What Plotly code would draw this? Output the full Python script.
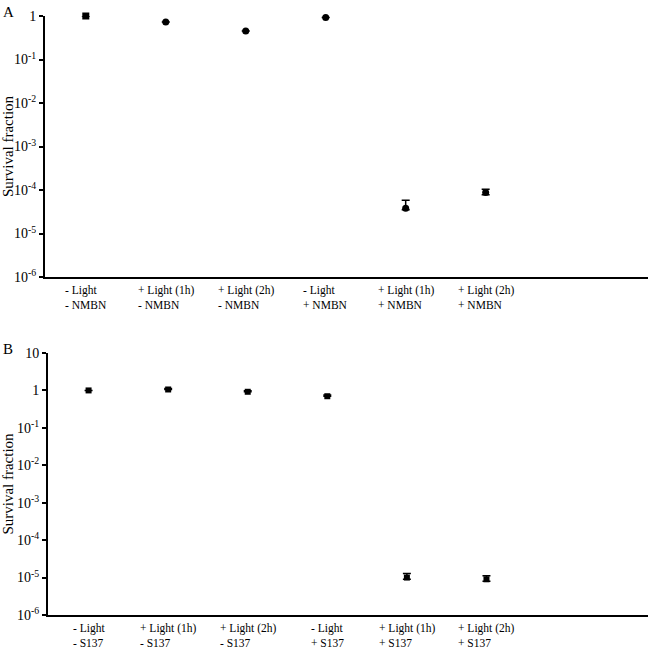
import plotly.graph_objects as go

# ---- data ----
labels_a = ["- Light<br>- NMBN", "+ Light (1h)<br>- NMBN", "+ Light (2h)<br>- NMBN",
            "- Light<br>+ NMBN", "+ Light (1h)<br>+ NMBN", "+ Light (2h)<br>+ NMBN"]
survival_a = [1.0, 0.73, 0.45, 0.92, 3.8e-5, 8.8e-5]
err_plus_a = [0, 0, 0, 0, 2.0e-5, 1.6e-5]
err_minus_a = [0, 0, 0, 0, 0.3e-5, 1.0e-5]
symbols_a = ["square", "circle", "circle", "circle", "circle", "circle"]

labels_b = ["- Light<br>- S137", "+ Light (1h)<br>- S137", "+ Light (2h)<br>- S137",
            "- Light<br>+ S137", "+ Light (1h)<br>+ S137", "+ Light (2h)<br>+ S137"]
survival_b = [1.0, 1.06, 0.92, 0.70, 1.0e-5, 0.9e-5]
err_plus_b = [0, 0.06, 0.06, 0.06, 0.28e-5, 0.22e-5]
err_minus_b = [0, 0, 0, 0, 0.1e-5, 0.1e-5]

tickvals_a = [1e-6, 1e-5, 1e-4, 1e-3, 1e-2, 1e-1, 1]
ticktext_a = ["10<sup>-6</sup>", "10<sup>-5</sup>", "10<sup>-4</sup>", "10<sup>-3</sup>",
              "10<sup>-2</sup>", "10<sup>-1</sup>", "1"]
tickvals_b = tickvals_a + [10]
ticktext_b = ticktext_a + ["10"]

FONT = "Liberation Serif, Times New Roman, serif"
idx = list(range(6))

fig = go.Figure()
fig.add_trace(go.Scatter(
    x=idx, y=survival_a, mode="markers", xaxis="x", yaxis="y",
    marker=dict(symbol=symbols_a, size=7, color="black"),
    error_y=dict(type="data", array=err_plus_a, arrayminus=err_minus_a,
                 color="black", thickness=1.5, width=4),
    cliponaxis=False, showlegend=False))
fig.add_trace(go.Scatter(
    x=idx, y=survival_b, mode="markers", xaxis="x2", yaxis="y2",
    marker=dict(symbol="square", size=6, color="black"),
    error_y=dict(type="data", array=err_plus_b, arrayminus=err_minus_b,
                 color="black", thickness=1.5, width=4),
    cliponaxis=False, showlegend=False))

yax_common = dict(type="log", showgrid=False, zeroline=False, showline=True,
                  linecolor="black", linewidth=2, ticks="outside", ticklen=4,
                  tickwidth=2, tickcolor="black", automargin=False,
                  tickfont=dict(family=FONT, size=14, color="black"),
                  title=dict(text="Survival fraction", standoff=6,
                             font=dict(family=FONT, size=15, color="black")))
xax_common = dict(range=[-0.51, 7.03], showgrid=False, zeroline=False, showline=True,
                  linecolor="black", linewidth=2, showticklabels=False, ticks="",
                  automargin=False)

dom_a = [338 / 599, 1.0]
dom_b = [0.0, 262 / 599]

annotations = []
for i, t in enumerate(labels_a):
    annotations.append(dict(x=i, y=dom_a[0], xref="x", yref="paper", text=t,
                            showarrow=False, xanchor="center", yanchor="top",
                            align="left", yshift=-5,
                            font=dict(family=FONT, size=11.5, color="black")))
for i, t in enumerate(labels_b):
    annotations.append(dict(x=i, y=dom_b[0], xref="x2", yref="paper", text=t,
                            showarrow=False, xanchor="center", yanchor="top",
                            align="left", yshift=-5,
                            font=dict(family=FONT, size=11.5, color="black")))
annotations.append(dict(x=0, y=1, xref="paper", yref="paper", text="A", showarrow=False,
                        xanchor="left", yanchor="top", xshift=-44, yshift=14,
                        font=dict(family=FONT, size=15, color="black")))
annotations.append(dict(x=0, y=dom_b[1], xref="paper", yref="paper", text="B",
                        showarrow=False, xanchor="left", yanchor="top", xshift=-44,
                        yshift=14, font=dict(family=FONT, size=15, color="black")))

fig.update_layout(
    width=650, height=650,
    margin=dict(l=45, r=2, t=16, b=35, autoexpand=False),
    paper_bgcolor="white", plot_bgcolor="white",
    xaxis=dict(domain=[0, 1], anchor="y", **xax_common),
    yaxis=dict(domain=dom_a, anchor="x", range=[-6, 0],
               tickvals=tickvals_a, ticktext=ticktext_a, **yax_common),
    xaxis2=dict(domain=[3 / 603, 1], anchor="y2", **xax_common),
    yaxis2=dict(domain=dom_b, anchor="x2", range=[-6, 1],
                tickvals=tickvals_b, ticktext=ticktext_b, **yax_common),
    annotations=annotations,
)

fig.write_html("out.html", config={"displayModeBar": False},
               post_script="document.body.style.margin='0';document.body.style.padding='0';")
